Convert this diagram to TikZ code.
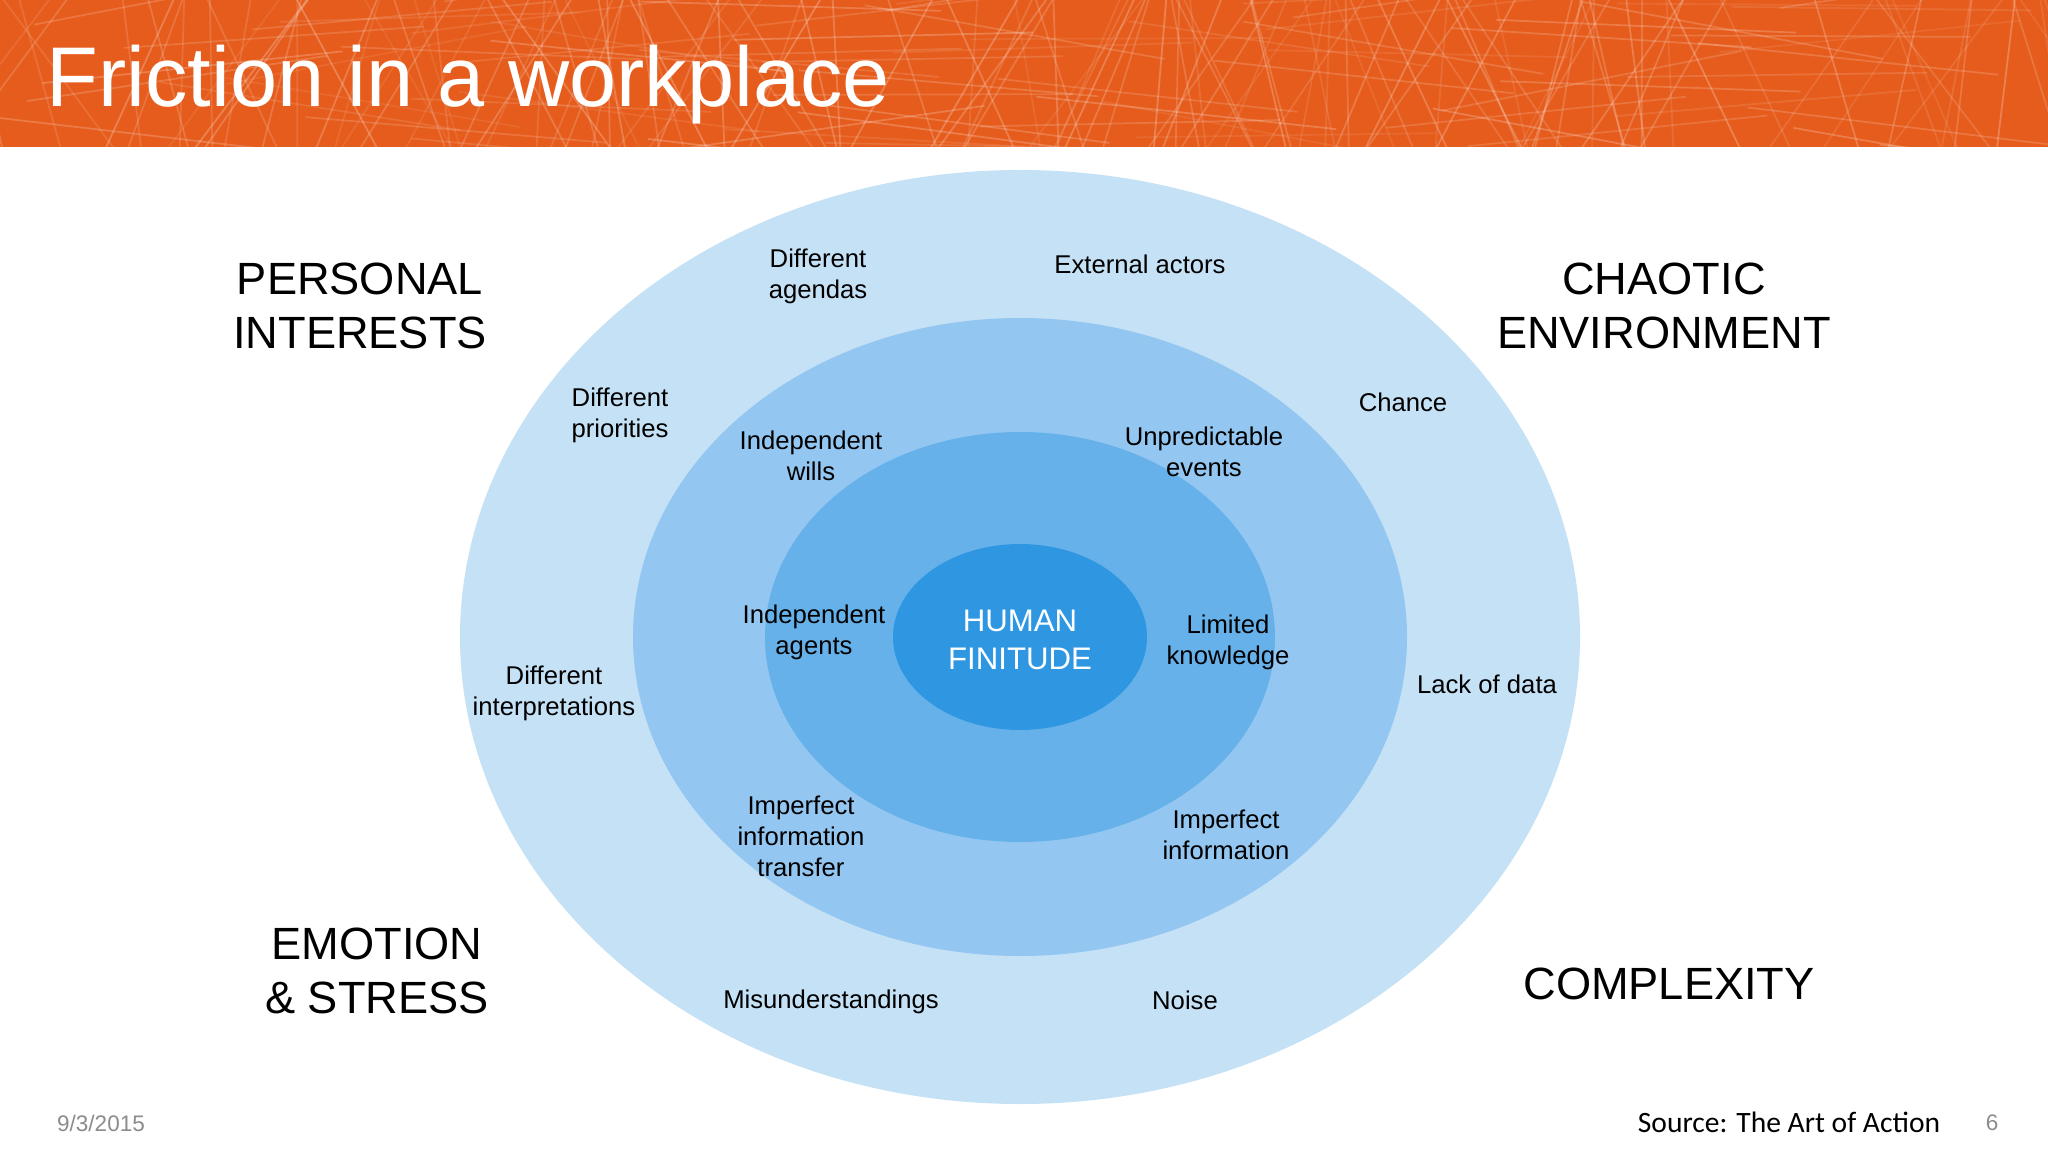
\documentclass[tikz,border=0pt]{standalone}
\usepackage{fontspec}
\setmainfont{Liberation Sans}
\newfontfamily\srcfont{Carlito}
\definecolor{bandorange}{HTML}{E65C1C}
\definecolor{bandlight}{HTML}{EB7C48}
\definecolor{ringa}{HTML}{C5E1F6}
\definecolor{ringb}{HTML}{93C6F0}
\definecolor{ringc}{HTML}{66B1EA}
\definecolor{ringd}{HTML}{2F97E1}
\definecolor{footgray}{HTML}{8C8C8C}
\tikzset{
  lbl/.style={align=center, inner sep=0pt, font=\fontsize{7.3}{8.8}\selectfont},
  biglbl/.style={align=center, inner sep=0pt, font=\fontsize{12.85}{15.6}\selectfont},
  foot/.style={inner sep=0pt, text=footgray, font=\fontsize{6.4}{7.5}\selectfont}
}
\begin{document}
\begin{tikzpicture}[x=0.01cm, y=-0.01cm]
\useasboundingbox[fill=white] (0,0) rectangle (2048,1152);
% header band
\begin{scope}
\clip (0,0) rectangle (2048,147);
\shade[left color=bandorange, middle color=bandlight, right color=bandorange] (0,0) rectangle (2048,147);
\pgfmathsetseed{11}
\foreach \i in {1,...,160} {
  \pgfmathsetmacro{\xa}{rnd*2400-180}
  \pgfmathsetmacro{\dx}{rnd*260-130}
  \pgfmathsetmacro{\op}{0.08+rnd*0.16}
  \draw[white, opacity=\op, line width=0.5pt] (\xa,-10) -- ++(\dx,170);
}
\foreach \i in {1,...,70} {
  \pgfmathsetmacro{\ya}{rnd*150}
  \pgfmathsetmacro{\dy}{rnd*120-60}
  \pgfmathsetmacro{\xa}{rnd*2000-100}
  \pgfmathsetmacro{\op}{0.08+rnd*0.14}
  \draw[white, opacity=\op, line width=0.5pt] (\xa,\ya) -- ++(300,\dy);
}
\end{scope}
\node[anchor=base west, inner sep=0pt, text=white, font=\fontsize{24.1}{28}\selectfont] (title) at (46,107) {Friction in a workplace};
% rings
\coordinate (c) at (1020,637);
\fill[ringa] (c) ellipse [x radius=560, y radius=467];
\fill[ringb] (c) ellipse [x radius=387, y radius=319];
\fill[ringc] (c) ellipse [x radius=255, y radius=205];
\fill[ringd] (c) ellipse [x radius=127, y radius=93];
\node[align=center, inner sep=0pt, text=white, font=\fontsize{8.87}{10.8}\selectfont] (finitude) at (1020,640) {HUMAN\\FINITUDE};
% corner headings
\node[biglbl] (personal) at (360,306) {PERSONAL\\INTERESTS};
\node[biglbl] (chaotic) at (1664,306) {CHAOTIC\\ENVIRONMENT};
\node[biglbl] (emotion) at (377,971) {EMOTION\\\& STRESS};
\node[biglbl] (complexity) at (1669,984) {COMPLEXITY};
% labels
\node[lbl] (agendas) at (818,276) {Different\\agendas};
\node[lbl] (actors) at (1140,264) {External actors};
\node[lbl] (priorities) at (620,415) {Different\\priorities};
\node[lbl] (chance) at (1403,402) {Chance};
\node[lbl] (wills) at (811,456) {Independent\\wills};
\node[lbl] (events) at (1204,452) {Unpredictable\\events};
\node[lbl] (agents) at (814,632) {Independent\\agents};
\node[lbl] (knowledge) at (1228,642) {Limited\\knowledge};
\node[lbl] (interp) at (554,693) {Different\\interpretations};
\node[lbl] (lackdata) at (1487,684) {Lack of data};
\node[lbl] (transfer) at (801,836) {Imperfect\\information\\transfer};
\node[lbl] (imperfect) at (1226,835) {Imperfect\\information};
\node[lbl] (misund) at (831,1002) {Misunderstandings};
\node[lbl] (noise) at (1185,1000) {Noise};
% footer
\node[foot] (date) at (101,1123) {9/3/2015};
\node[inner sep=0pt, font=\srcfont\fontsize{8.4}{10}\selectfont] (source) at (1789,1122) {Source: The Art of Action};
\node[foot] (page) at (1992,1123) {6};
\end{tikzpicture}
\end{document}
